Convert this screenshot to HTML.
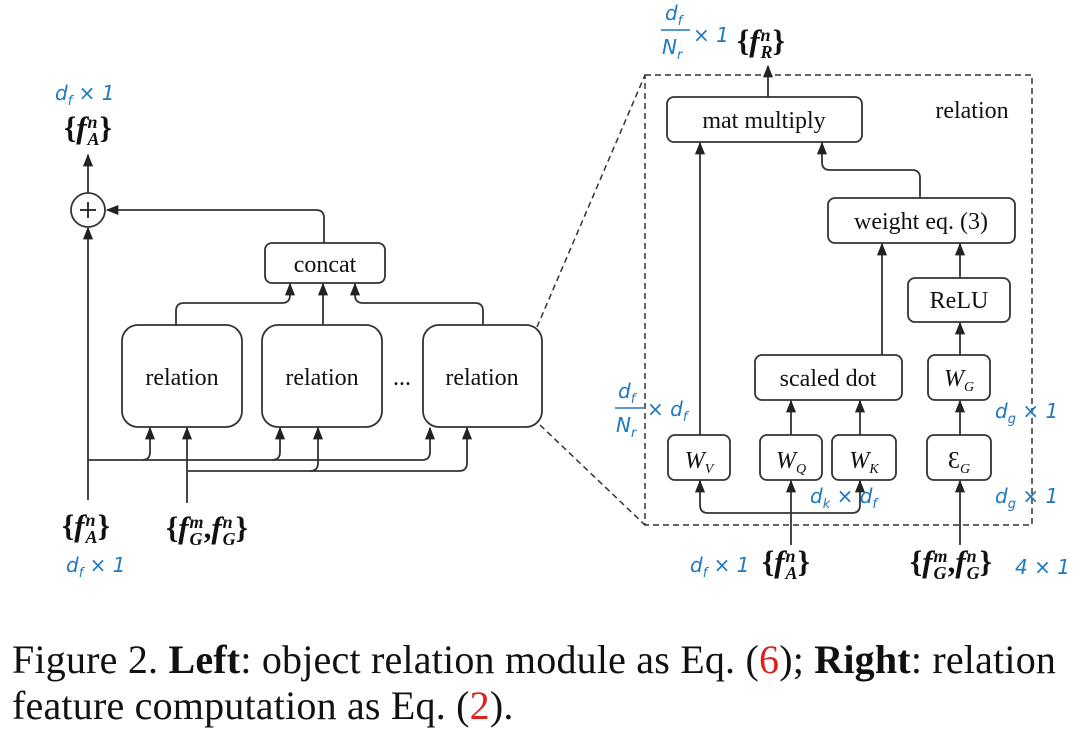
<!DOCTYPE html>
<html><head><meta charset="utf-8"><style>
body{margin:0;background:#fff;width:1080px;height:740px;overflow:hidden;position:relative}
svg text{font-family:"Liberation Serif",serif;fill:#111}
.b{fill:#1f78c1;font-family:"DejaVu Sans",sans-serif;font-style:italic}
.cap{font-family:"Liberation Serif",serif;font-size:40px;position:absolute;left:12px;color:#111;white-space:nowrap;letter-spacing:0.2px}
.r{color:#e0201b}
.fm{position:absolute;font-family:"Liberation Serif",serif;font-size:31px;font-weight:bold;color:#111;white-space:nowrap;line-height:1}
.fm i{font-style:italic}
.ss{display:inline-block;vertical-align:middle;line-height:0.95;font-size:18px;font-style:italic;font-weight:bold;text-align:left;margin-left:1px}
.ss span{display:block}
</style></head><body>
<svg width="1080" height="740" style="position:absolute;left:0;top:0">
<defs><marker id="a" viewBox="0 0 10 10" refX="9" refY="5" markerWidth="7" markerHeight="7" orient="auto"><path d="M0,1 L10,5 L0,9 z" fill="#222"/></marker></defs>
<g fill="none" stroke="#333" stroke-width="1.8">
<circle cx="88" cy="210" r="17"/>
<line x1="88" y1="193" x2="88" y2="155" marker-end="url(#a)"/>
<line x1="88" y1="500" x2="88" y2="228" marker-end="url(#a)"/>
<rect x="265" y="243" width="120" height="40" rx="7"/>
<path d="M324,243 V218 Q324,210 316,210 H107" marker-end="url(#a)"/>
<rect x="122" y="325" width="120" height="102" rx="16"/>
<rect x="262" y="325" width="120" height="102" rx="16"/>
<rect x="423" y="325" width="119" height="102" rx="16"/>
<path d="M176,325 V311 Q176,303 184,303 H282 Q290,303 290,295 V284" marker-end="url(#a)"/>
<line x1="323" y1="325" x2="323" y2="284" marker-end="url(#a)"/>
<path d="M483,325 V311 Q483,303 475,303 H363 Q355,303 355,295 V284" marker-end="url(#a)"/>
<path d="M88,460 H142 Q150,460 150,452 V428" marker-end="url(#a)"/>
<path d="M142,460 H272 Q280,460 280,452 V428" marker-end="url(#a)"/>
<path d="M272,460 H422 Q430,460 430,452 V428" marker-end="url(#a)"/>
<line x1="187" y1="503" x2="187" y2="428" marker-end="url(#a)"/>
<path d="M187,471 H310 Q318,471 318,463 V428" marker-end="url(#a)"/>
<path d="M310,471 H459 Q467,471 467,463 V428" marker-end="url(#a)"/>
<rect x="645" y="75" width="387" height="450" stroke-dasharray="6,4" stroke-width="1.5"/>
<line x1="537" y1="327" x2="645" y2="75" stroke-dasharray="6,4" stroke-width="1.5"/>
<line x1="540" y1="425" x2="645" y2="525" stroke-dasharray="6,4" stroke-width="1.5"/>
<rect x="667" y="97" width="195" height="45" rx="7"/>
<line x1="768" y1="97" x2="768" y2="66" marker-end="url(#a)"/>
<rect x="828" y="198" width="187" height="45" rx="7"/>
<path d="M920,198 V178 Q920,170 912,170 H830 Q822,170 822,162 V143" marker-end="url(#a)"/>
<rect x="908" y="278" width="102" height="44" rx="7"/>
<line x1="960" y1="278" x2="960" y2="244" marker-end="url(#a)"/>
<rect x="928" y="355" width="62" height="45" rx="7"/>
<line x1="960" y1="355" x2="960" y2="323" marker-end="url(#a)"/>
<rect x="755" y="355" width="147" height="45" rx="7"/>
<line x1="882" y1="355" x2="882" y2="244" marker-end="url(#a)"/>
<rect x="668" y="435" width="62" height="45" rx="7"/>
<rect x="760" y="435" width="62" height="45" rx="7"/>
<rect x="832" y="435" width="64" height="45" rx="7"/>
<rect x="927" y="435" width="64" height="45" rx="7"/>
<line x1="700" y1="435" x2="700" y2="143" marker-end="url(#a)"/>
<line x1="791" y1="435" x2="791" y2="401" marker-end="url(#a)"/>
<line x1="860" y1="435" x2="860" y2="401" marker-end="url(#a)"/>
<line x1="960" y1="435" x2="960" y2="401" marker-end="url(#a)"/>
<line x1="960" y1="545" x2="960" y2="481" marker-end="url(#a)"/>
<line x1="791" y1="545" x2="791" y2="481" marker-end="url(#a)"/>
<path d="M791,513 H708 Q700,513 700,505 V481" marker-end="url(#a)"/>
<path d="M791,513 H852 Q860,513 860,505 V481" marker-end="url(#a)"/>
</g>
<line x1="80" y1="210" x2="96" y2="210" stroke="#222" stroke-width="1.8"/>
<line x1="88" y1="202" x2="88" y2="218" stroke="#222" stroke-width="1.8"/>
<g font-size="24" text-anchor="middle">
<text x="325" y="272">concat</text>
<text x="182" y="385">relation</text>
<text x="322" y="385">relation</text>
<text x="482" y="385">relation</text>
<text x="402" y="385">...</text>
<text x="764" y="128">mat multiply</text>
<text x="972" y="118">relation</text>
<text x="921" y="229">weight eq. (3)</text>
<text x="959" y="308">ReLU</text>
<text x="828" y="386">scaled dot</text>
<text x="699" y="468" font-style="italic">W<tspan font-size="14" dy="5">V</tspan></text>
<text x="791" y="468" font-style="italic">W<tspan font-size="14" dy="5">Q</tspan></text>
<text x="864" y="468" font-style="italic">W<tspan font-size="14" dy="5">K</tspan></text>
<text x="959" y="386" font-style="italic">W<tspan font-size="14" dy="5">G</tspan></text>
<text x="959" y="468">Ɛ<tspan font-size="14" dy="5" font-style="italic">G</tspan></text>
</g>
<g font-size="20">
<text x="55" y="100" class="b">d<tspan font-size="13" dy="5">f</tspan><tspan dy="-5"> × 1</tspan></text>
<text x="66" y="572" class="b">d<tspan font-size="13" dy="5">f</tspan><tspan dy="-5"> × 1</tspan></text>
<text x="690" y="572" class="b">d<tspan font-size="13" dy="5">f</tspan><tspan dy="-5"> × 1</tspan></text>
<text x="1015" y="574" class="b">4 × 1</text>
<text x="995" y="418" class="b">d<tspan font-size="13" dy="5">g</tspan><tspan dy="-5"> × 1</tspan></text>
<text x="995" y="503" class="b">d<tspan font-size="13" dy="5">g</tspan><tspan dy="-5"> × 1</tspan></text>
<text x="810" y="503" class="b">d<tspan font-size="13" dy="5">k</tspan><tspan dy="-5"> × d</tspan><tspan font-size="13" dy="5">f</tspan></text>
<text x="647" y="416" class="b">× d<tspan font-size="13" dy="5">f</tspan></text>
<text x="618" y="398" class="b">d<tspan font-size="13" dy="5">f</tspan></text>
<line x1="615" y1="408" x2="644" y2="408" stroke="#1f78c1" stroke-width="1.5"/>
<text x="616" y="432" class="b">N<tspan font-size="13" dy="5">r</tspan></text>
<text x="665" y="20" class="b">d<tspan font-size="13" dy="5">f</tspan></text>
<line x1="661" y1="30" x2="690" y2="30" stroke="#1f78c1" stroke-width="1.5"/>
<text x="662" y="54" class="b">N<tspan font-size="13" dy="5">r</tspan></text>
<text x="693" y="42" class="b">× 1</text>
</g>
</svg>
<div class="fm" style="left:64px;top:112px">{<i>f</i><span class="ss"><span>n</span><span>A</span></span>}</div>
<div class="fm" style="left:62px;top:510px">{<i>f</i><span class="ss"><span>n</span><span>A</span></span>}</div>
<div class="fm" style="left:166px;top:512px">{<i>f</i><span class="ss"><span>m</span><span>G</span></span>,<i>f</i><span class="ss"><span>n</span><span>G</span></span>}</div>
<div class="fm" style="left:762px;top:546px">{<i>f</i><span class="ss"><span>n</span><span>A</span></span>}</div>
<div class="fm" style="left:910px;top:546px">{<i>f</i><span class="ss"><span>m</span><span>G</span></span>,<i>f</i><span class="ss"><span>n</span><span>G</span></span>}</div>
<div class="fm" style="left:737px;top:25px">{<i>f</i><span class="ss"><span>n</span><span>R</span></span>}</div>
<div class="cap" style="top:636px">Figure 2. <b>Left</b>: object relation module as Eq. (<span class="r">6</span>); <b>Right</b>: relation</div>
<div class="cap" style="top:682px">feature computation as Eq. (<span class="r">2</span>).</div>
</body></html>
